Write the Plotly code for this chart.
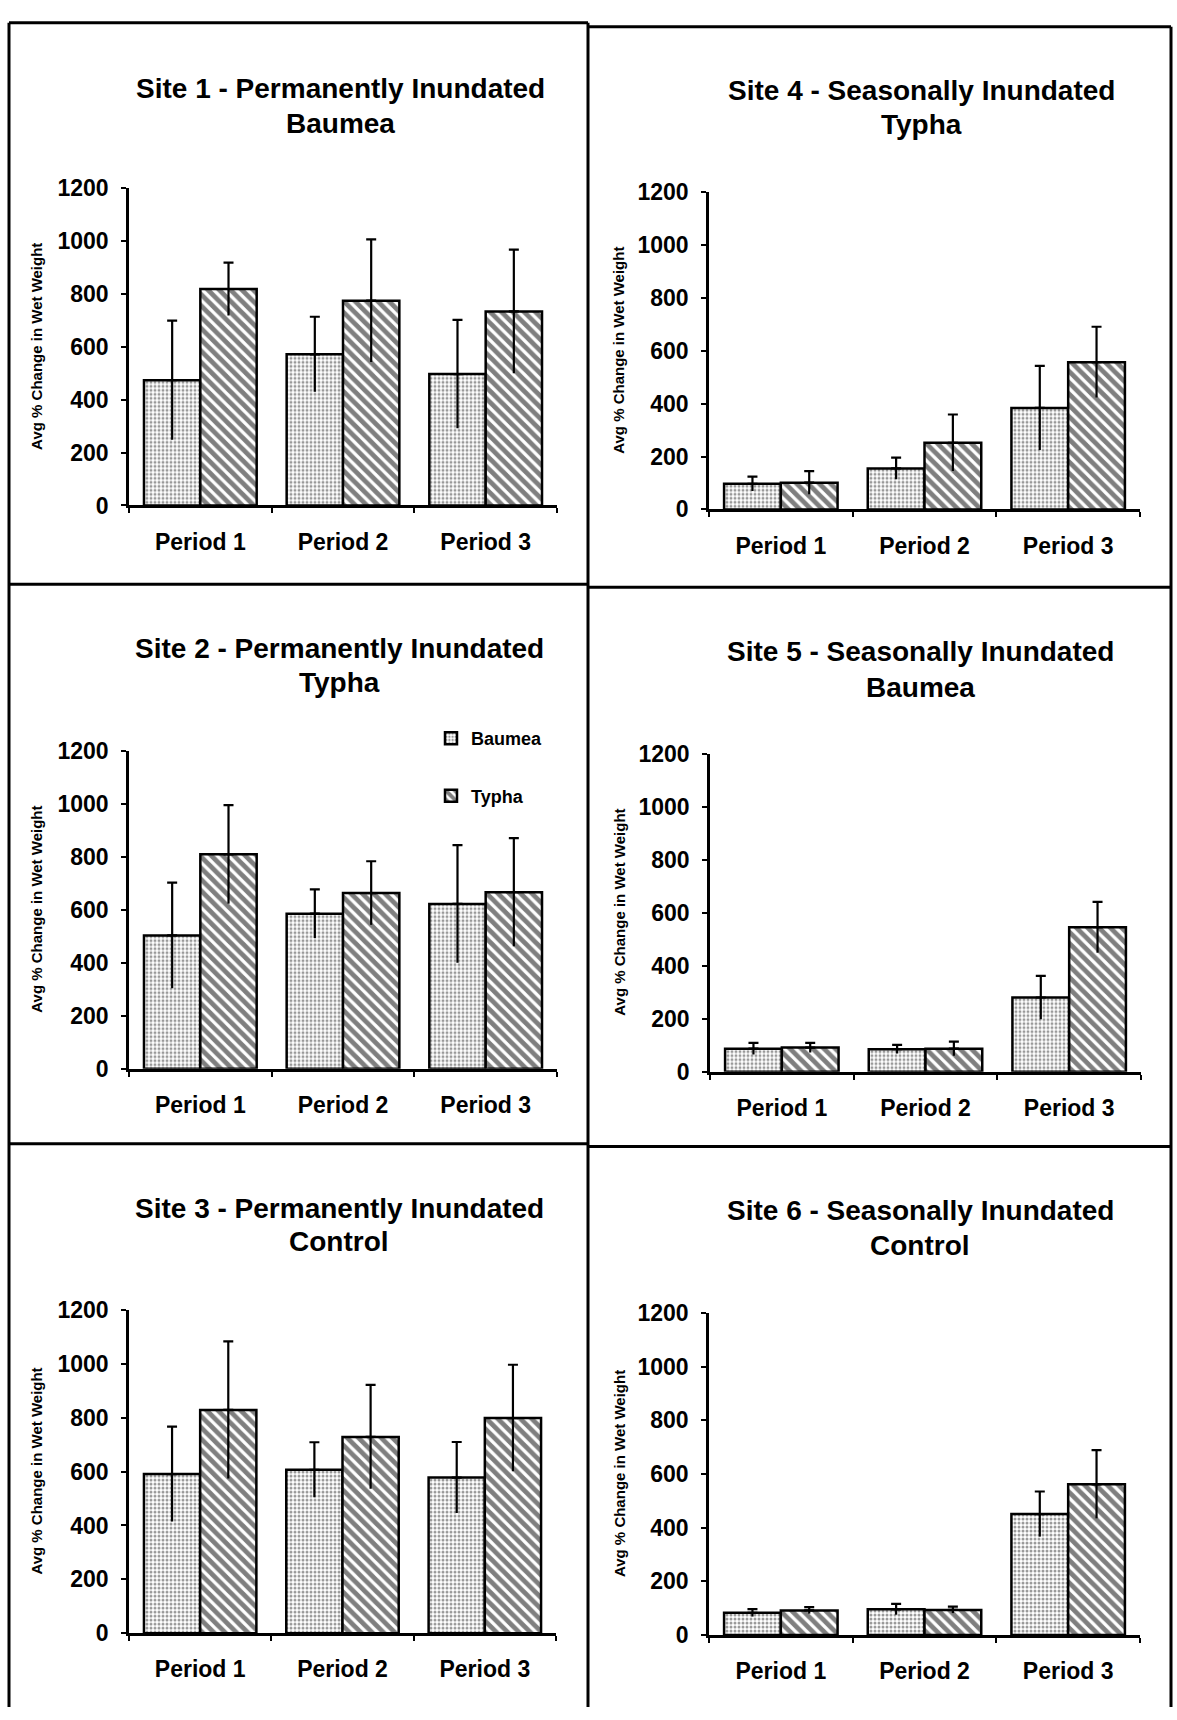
import plotly.graph_objects as go

periods = ["Period 1", "Period 2", "Period 3"]

site1_baumea = [474, 572, 497]
site1_baumea_err = [225, 142, 205]
site1_typha = [819, 775, 734]
site1_typha_err = [100, 232, 234]

site2_baumea = [503, 585, 622]
site2_baumea_err = [199, 92, 222]
site2_typha = [809, 663, 666]
site2_typha_err = [186, 120, 204]

site3_baumea = [591, 607, 578]
site3_baumea_err = [176, 102, 132]
site3_typha = [829, 729, 799]
site3_typha_err = [255, 193, 198]

site4_baumea = [97, 155, 384]
site4_baumea_err = [27, 41, 159]
site4_typha = [101, 252, 557]
site4_typha_err = [44, 107, 134]

site5_baumea = [87, 85, 280]
site5_baumea_err = [22, 16, 82]
site5_typha = [91, 87, 545]
site5_typha_err = [18, 27, 96]

site6_baumea = [83, 96, 451]
site6_baumea_err = [14, 20, 84]
site6_typha = [92, 94, 562]
site6_typha_err = [12, 12, 127]

titles_line1 = ["Site 1 - Permanently Inundated", "Site 2 - Permanently Inundated",
                "Site 3 - Permanently Inundated", "Site 4 - Seasonally Inundated",
                "Site 5 - Seasonally Inundated", "Site 6 - Seasonally Inundated"]
titles_line2 = ["Baumea", "Typha", "Control", "Typha", "Baumea", "Control"]
series_names = ["Baumea", "Typha"]
y_title = "Avg % Change in Wet Weight"
y_ticks = [0, 200, 400, 600, 800, 1000, 1200]

W, H = 1177, 1720
FONT = "Liberation Sans, Arial, sans-serif"

def px_x(x):
    return x / W

def px_y(y):
    return 1 - y / H

data = [
    (site1_baumea, site1_baumea_err, site1_typha, site1_typha_err),
    (site2_baumea, site2_baumea_err, site2_typha, site2_typha_err),
    (site3_baumea, site3_baumea_err, site3_typha, site3_typha_err),
    (site4_baumea, site4_baumea_err, site4_typha, site4_typha_err),
    (site5_baumea, site5_baumea_err, site5_typha, site5_typha_err),
    (site6_baumea, site6_baumea_err, site6_typha, site6_typha_err),
]

# plot areas in pixels: x0, x1, ytop(1200), ybottom(0)
areas = [
    (129, 557, 178, 500),
    (129, 557, 749, 1072),
    (129, 556, 1317, 1645),
    (709, 1140, 182, 504),
    (710, 1141, 752, 1075),
    (709, 1140, 1320, 1647),
]
# title positions: center x, line1 y, line2 y
title_pos = [
    (340, 77, 112),
    (339, 645, 680),
    (339, 1214, 1247),
    (921, 79, 113),
    (920, 648, 685),
    (920, 1216, 1251),
]
ytitle_x = [37, 37, 37, 619, 620, 619]

baumea_pattern = dict(shape=".", fgcolor="#333333", bgcolor="#ffffff", size=4, solidity=0.45)
typha_pattern = dict(shape="\\", fgcolor="#000000", bgcolor="#ffffff", size=8, solidity=0.6)

fig = go.Figure()
layout = dict(
    width=W, height=H,
    margin=dict(l=0, r=0, t=0, b=0),
    paper_bgcolor="white", plot_bgcolor="white",
    barmode="group", bargap=0.21, bargroupgap=0,
    font=dict(family=FONT, color="black"),
    showlegend=True,
    legend=dict(x=px_x(431), y=px_y(718), xanchor="left", yanchor="top",
                font=dict(size=18, family=FONT, color="black", weight="bold"),
                bgcolor="rgba(0,0,0,0)", tracegroupgap=31, itemwidth=30),
)
annotations = []
shapes = []

for i, (b, be, t, te) in enumerate(data):
    n = i + 1
    xa = "x" if n == 1 else f"x{n}"
    ya = "y" if n == 1 else f"y{n}"
    zeros = [0] * len(periods)
    for name, vals, errs, pat, grp in ((series_names[0], b, be, baumea_pattern, "b"),
                                        (series_names[1], t, te, typha_pattern, "t")):
        fig.add_trace(go.Bar(
            x=periods, y=vals, name=name, xaxis=xa, yaxis=ya, offsetgroup=grp,
            marker=dict(color="white", pattern=pat, line=dict(color="black", width=2.5)),
            error_y=dict(type="data", symmetric=False, array=errs, arrayminus=zeros,
                         visible=True, color="black", thickness=2.2, width=5),
            showlegend=(n == 2), legendgroup=grp,
        ))
        # lower half of the error bar (no cap), overlaid in the same slot
        fig.add_trace(go.Bar(
            x=periods, y=vals, name=name, xaxis=xa, yaxis=ya, offsetgroup=grp,
            marker=dict(color="rgba(0,0,0,0)", line=dict(width=0)),
            error_y=dict(type="data", symmetric=False, array=zeros, arrayminus=errs,
                         visible=True, color="black", thickness=2.2, width=0),
            showlegend=False, hoverinfo="skip", legendgroup=grp,
        ))
    x0, x1, ytop, ybot = areas[i]
    key_x = "xaxis" if n == 1 else f"xaxis{n}"
    key_y = "yaxis" if n == 1 else f"yaxis{n}"
    layout[key_x] = dict(
        domain=[px_x(x0), px_x(x1)], anchor=ya,
        showline=True, linecolor="black", linewidth=2.5,
        ticks="outside", tickson="boundaries", ticklen=5, tickwidth=2, tickcolor="black",
        showgrid=False, zeroline=False,
        tickfont=dict(size=23, family=FONT, color="black", weight="bold"),
        ticklabelstandoff=14, fixedrange=True,
    )
    layout[key_y] = dict(
        domain=[px_y(ybot), px_y(ytop)], anchor=xa,
        range=[0, 1200], tickvals=y_ticks,
        showline=True, linecolor="black", linewidth=2.5,
        ticks="outside", ticklen=5, tickwidth=2, tickcolor="black",
        showgrid=False, zeroline=False,
        tickfont=dict(size=23, family=FONT, color="black", weight="bold"),
        ticklabelstandoff=8, fixedrange=True,
    )
    cx, l1, l2 = title_pos[i]
    for txt, yy in ((titles_line1[i], l1), (titles_line2[i], l2)):
        annotations.append(dict(text=txt, x=px_x(cx), y=px_y(yy), xref="paper", yref="paper",
                                xanchor="center", yanchor="middle", showarrow=False,
                                font=dict(size=28, family=FONT, color="black", weight="bold")))
    annotations.append(dict(text=y_title, x=px_x(ytitle_x[i]), y=px_y((ytop + ybot) / 2),
                            xref="paper", yref="paper", textangle=-90,
                            xanchor="center", yanchor="middle", showarrow=False,
                            font=dict(size=15, family=FONT, color="black", weight="bold")))

# panel frame lines (pixel coords)
frame_lines = [
    (9, 10, 588, 10), (588, 14, 1171, 14),
    (9, 10, 9, 1720), (588, 10, 588, 1720), (1171, 14, 1171, 1720),
    (9, 580, 588, 580), (588, 583, 1171, 583),
    (9, 1148, 588, 1148), (588, 1151, 1171, 1151),
]
for (ax0, ay0, ax1, ay1) in frame_lines:
    shapes.append(dict(type="line", xref="paper", yref="paper",
                       x0=px_x(ax0), y0=px_y(ay0), x1=px_x(ax1), y1=px_y(ay1),
                       line=dict(color="black", width=3)))

layout["annotations"] = annotations
layout["shapes"] = shapes
fig.update_layout(**layout)

post = ("document.body.style.margin='0';document.body.style.padding='0';"
        "document.body.style.overflow='hidden';"
        "var d=document.querySelector('.plotly-graph-div');"
        "if(d){d.style.position='absolute';d.style.left='0px';d.style.top='0px';}")
fig.write_html("out.html", config={"displayModeBar": False}, post_script=post)
